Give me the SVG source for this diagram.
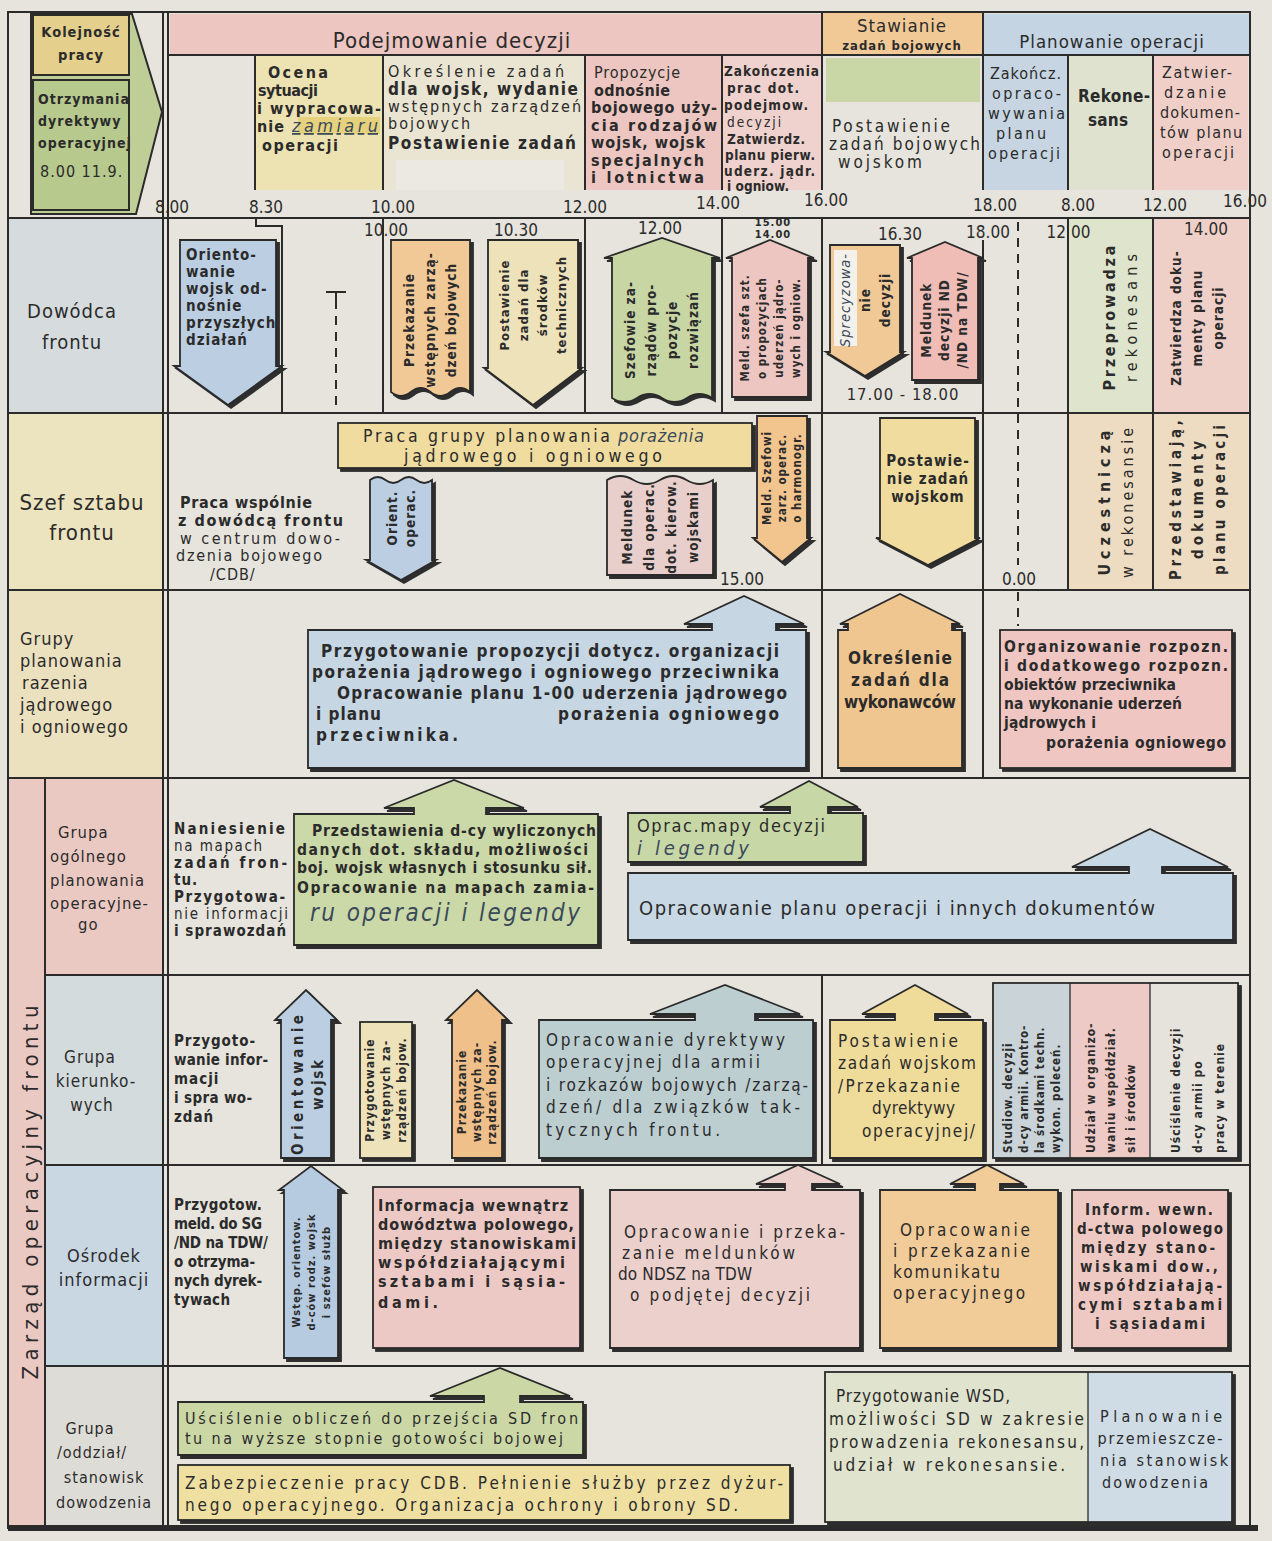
<svg xmlns="http://www.w3.org/2000/svg" width="1272" height="1541" viewBox="0 0 1272 1541">
<defs>
<filter id="sh" x="-10%" y="-10%" width="125%" height="125%">
<feOffset in="SourceAlpha" dx="3" dy="3" result="o"/>
<feFlood flood-color="#2e2e2e"/>
<feComposite in2="o" operator="in"/>
<feMerge><feMergeNode/><feMergeNode in="SourceGraphic"/></feMerge>
</filter>
<style>
.ln{stroke:#2b2b2b;stroke-width:2;fill:none}
.thin{stroke:#2b2b2b;stroke-width:1.3;fill:none}
.dash{stroke:#2b2b2b;stroke-width:2;fill:none;stroke-dasharray:9 7}
.bx{stroke:#2b2b2b;stroke-width:1.8;filter:url(#sh)}
.t{font-family:'DejaVu Sans Condensed','DejaVu Sans',sans-serif;font-weight:bold;fill:#2b2b2b;letter-spacing:1px}
.n{font-weight:normal}
.f{letter-spacing:0}
.hand{font-family:'DejaVu Sans Condensed','DejaVu Sans',sans-serif;font-style:italic;font-weight:normal;fill:#3a4a5a}
.lab{font-family:'DejaVu Sans Condensed','DejaVu Sans',sans-serif;font-weight:normal;fill:#2b2b2b;letter-spacing:1px}
.tm{font-family:'DejaVu Sans Condensed','DejaVu Sans',sans-serif;font-weight:normal;fill:#2b2b2b;font-size:17px}
.mid{text-anchor:middle}
.end{text-anchor:end}
.pink{fill:#edc6c1}.pink2{fill:#efd2cd}.orange{fill:#f1c996}.yellow{fill:#efdc9e}.ylight{fill:#ece2b2}
.green{fill:#c8d6a4}.blue{fill:#bccfe2}.cream{fill:#eee2ba}
</style>
</defs>

<rect x="0" y="0" width="1272" height="1541" fill="#e6e4dd"/>

<g id="grid-cells">
<polygon points="31,14 132,14 162,112 136,214 31,214" fill="#bfcd97" stroke="#2b2b2b" stroke-width="2"/>
<rect x="170" y="14" width="652" height="41" class="pink"/>
<rect x="822" y="12" width="161" height="43" class="orange"/>
<rect x="983" y="14" width="267" height="41" fill="#c4d4e3"/>
<rect x="255" y="55" width="128" height="135" class="ylight"/>
<rect x="383" y="55" width="202" height="135" fill="#e9e5d2"/>
<rect x="585" y="55" width="137" height="135" class="pink"/>
<rect x="722" y="55" width="100" height="135" class="pink2"/>
<rect x="826" y="58" width="154" height="44" fill="#c9d7a7"/>
<rect x="983" y="55" width="85" height="135" fill="#c6d5e1"/>
<rect x="1068" y="55" width="85" height="135" fill="#dee2cf"/>
<rect x="1153" y="55" width="95" height="135" fill="#efcfc8"/>
<rect x="396" y="160" width="168" height="30" fill="#ece9e2"/>
<rect x="8" y="218" width="155" height="195" fill="#d6dcde"/>
<rect x="8" y="413" width="155" height="177" fill="#ece3bf"/>
<rect x="8" y="590" width="155" height="188" fill="#ebe1bf"/>
<rect x="8" y="778" width="37" height="750" fill="#ebc9c3"/>
<rect x="45" y="778" width="118" height="197" fill="#ebc9c3"/>
<rect x="45" y="975" width="118" height="190" fill="#d4dbdd"/>
<rect x="45" y="1165" width="118" height="201" fill="#c9d7e3"/>
<rect x="45" y="1366" width="118" height="162" fill="#dedcd6"/>
<rect x="1068" y="218" width="85" height="195" fill="#dfe5cc"/>
<rect x="1153" y="218" width="95" height="195" fill="#efd0c8"/>
<rect x="1068" y="413" width="180" height="177" fill="#eddcc1"/>
</g>

<g id="grid-lines">
<rect x="8" y="12" width="1242" height="1516" class="ln" stroke-width="2.5"/>
<line x1="163" y1="12" x2="163" y2="1528" class="ln"/>
<line x1="168" y1="12" x2="168" y2="1528" class="ln"/>
<line x1="31" y1="12" x2="31" y2="214" class="ln"/>
<line x1="168" y1="55" x2="1250" y2="55" class="ln"/>
<line x1="822" y1="12" x2="822" y2="190" class="ln"/>
<line x1="983" y1="12" x2="983" y2="190" class="ln"/>
<line x1="255" y1="55" x2="255" y2="190" class="ln"/>
<line x1="383" y1="55" x2="383" y2="190" class="ln"/>
<line x1="585" y1="55" x2="585" y2="190" class="ln"/>
<line x1="722" y1="55" x2="722" y2="190" class="ln"/>
<line x1="1068" y1="55" x2="1068" y2="190" class="ln"/>
<line x1="1153" y1="55" x2="1153" y2="190" class="ln"/>
<line x1="8" y1="218" x2="1250" y2="218" class="ln"/>
<line x1="8" y1="413" x2="1250" y2="413" class="ln"/>
<line x1="8" y1="590" x2="1250" y2="590" class="ln"/>
<line x1="8" y1="778" x2="1250" y2="778" class="ln"/>
<line x1="45" y1="975" x2="1250" y2="975" class="ln"/>
<line x1="45" y1="1165" x2="1250" y2="1165" class="ln"/>
<line x1="45" y1="1366" x2="1250" y2="1366" class="ln"/>
<line x1="45" y1="778" x2="45" y2="1528" class="ln"/>
<line x1="8" y1="1528" x2="1258" y2="1528" stroke="#2b2b2b" stroke-width="6"/>
<line x1="383" y1="218" x2="383" y2="413" class="ln"/>
<line x1="585" y1="218" x2="585" y2="413" class="ln"/>
<line x1="722" y1="218" x2="722" y2="413" class="ln"/>
<line x1="822" y1="218" x2="822" y2="778" class="ln"/>
<line x1="983" y1="240" x2="983" y2="778" class="ln"/>
<line x1="1068" y1="218" x2="1068" y2="590" class="ln"/>
<line x1="1153" y1="218" x2="1153" y2="590" class="ln"/>
<line x1="822" y1="975" x2="822" y2="1165" class="ln"/>
</g>

<g id="connectors">
<path d="M256 218 V226 H282 V413" class="ln"/>
<path d="M326 292 H346 M336 292 V300" class="ln"/>
<line x1="336" y1="300" x2="336" y2="413" class="dash"/>
<line x1="1018" y1="222" x2="1018" y2="565" class="dash"/>
<line x1="1018" y1="592" x2="1018" y2="626" class="dash"/>
</g>

<g id="header">
<rect x="33" y="15" width="96" height="60" fill="#e5cf8c" stroke="#2b2b2b" stroke-width="2"/>
<text class="t mid" font-size="14.5" x="81" y="37">Kolejność</text>
<text class="t mid" font-size="14.5" x="81" y="60">pracy</text>
<rect x="33" y="80" width="96" height="130" fill="#b8c98d" stroke="#2b2b2b" stroke-width="2"/>
<text class="t" font-size="14" x="38" y="104">Otrzymania</text>
<text class="t" font-size="14" x="38" y="126">dyrektywy</text>
<text class="t" font-size="14" x="38" y="148">operacyjnej</text>
<text class="t n" font-size="16" x="40" y="177">8.00 11.9.</text>
<text class="lab mid" font-size="22" letter-spacing="2.5" x="452" y="48">Podejmowanie decyzji</text>
<text class="lab mid" font-size="18.5" letter-spacing="1.5" x="902" y="32">Stawianie</text>
<text class="t mid" font-size="13" x="902" y="50" letter-spacing="0.3">zadań bojowych</text>
<text class="lab mid" font-size="18.5" letter-spacing="1.8" x="1112" y="48">Planowanie operacji</text>
<rect x="298" y="117" width="82" height="17" fill="#e6d27c"/>
<text class="t f" font-size="16" x="268" y="78" textLength="60" lengthAdjust="spacing">Ocena</text>
<text class="t f" font-size="16" x="258" y="96" textLength="60" lengthAdjust="spacing">sytuacji</text>
<text class="t f" font-size="16" x="257" y="114" textLength="124" lengthAdjust="spacing">i wypracowa-</text>
<text class="t" font-size="16" x="257" y="132">nie</text>
<text class="hand" font-size="18" x="292" y="132" text-decoration="underline" textLength="86" lengthAdjust="spacing">zamiaru</text>
<text class="t f" font-size="16" x="262" y="151" textLength="76" lengthAdjust="spacing">operacji</text>
<text class="t n f" font-size="16" x="388" y="77" textLength="176" lengthAdjust="spacing">Określenie zadań</text>
<text class="t f" font-size="17" x="388" y="95" textLength="190" lengthAdjust="spacing">dla wojsk, wydanie</text>
<text class="t n f" font-size="16" x="388" y="112" textLength="193" lengthAdjust="spacing">wstępnych zarządzeń</text>
<text class="t n f" font-size="16" x="388" y="129" textLength="82" lengthAdjust="spacing">bojowych</text>
<text class="t f" font-size="17" x="388" y="149" textLength="188" lengthAdjust="spacing">Postawienie zadań</text>
<text class="t n f" font-size="16" x="594" y="78" textLength="86" lengthAdjust="spacing">Propozycje</text>
<text class="t f" font-size="16" x="594" y="96" textLength="76" lengthAdjust="spacing">odnośnie</text>
<text class="t f" font-size="16" x="591" y="113" textLength="126" lengthAdjust="spacing">bojowego uży-</text>
<text class="t f" font-size="16" x="591" y="131" textLength="126" lengthAdjust="spacing">cia rodzajów</text>
<text class="t f" font-size="16" x="591" y="148" textLength="114" lengthAdjust="spacing">wojsk, wojsk</text>
<text class="t f" font-size="16" x="591" y="166" textLength="113" lengthAdjust="spacing">specjalnych</text>
<text class="t f" font-size="16" x="591" y="183" textLength="113" lengthAdjust="spacing">i lotnictwa</text>
<text class="t f" font-size="13.5" x="724" y="76" textLength="95" lengthAdjust="spacing">Zakończenia</text>
<text class="t f" font-size="13.5" x="727" y="93" textLength="72" lengthAdjust="spacing">prac dot.</text>
<text class="t f" font-size="13.5" x="724" y="110" textLength="84" lengthAdjust="spacing">podejmow.</text>
<text class="t n f" font-size="13.5" x="727" y="127" textLength="54" lengthAdjust="spacing">decyzji</text>
<text class="t f" font-size="13.5" x="727" y="144" textLength="78" lengthAdjust="spacing">Zatwierdz.</text>
<text class="t f" font-size="13.5" x="725" y="160" textLength="90" lengthAdjust="spacing">planu pierw.</text>
<text class="t f" font-size="13.5" x="724" y="176" textLength="91" lengthAdjust="spacing">uderz. jądr.</text>
<text class="t f" font-size="13.5" x="727" y="191" textLength="62" lengthAdjust="spacing">i ogniow.</text>
<text class="t n f" font-size="17" x="832" y="132" textLength="118" lengthAdjust="spacing">Postawienie</text>
<text class="t n f" font-size="17" x="829" y="150" textLength="151" lengthAdjust="spacing">zadań bojowych</text>
<text class="t n f" font-size="17" x="838" y="168" textLength="84" lengthAdjust="spacing">wojskom</text>
<text class="t n f" font-size="16" x="990" y="79" textLength="71" lengthAdjust="spacing">Zakończ.</text>
<text class="t n f" font-size="16" x="992" y="99" textLength="69" lengthAdjust="spacing">opraco-</text>
<text class="t n f" font-size="16" x="988" y="119" textLength="77" lengthAdjust="spacing">wywania</text>
<text class="t n f" font-size="16" x="996" y="139" textLength="50" lengthAdjust="spacing">planu</text>
<text class="t n f" font-size="16" x="988" y="159" textLength="72" lengthAdjust="spacing">operacji</text>
<text class="t f" font-size="17" x="1078" y="102" textLength="72" lengthAdjust="spacing">Rekone-</text>
<text class="t f" font-size="17" x="1088" y="126" textLength="40" lengthAdjust="spacing">sans</text>
<text class="t n f" font-size="16" x="1162" y="78" textLength="70" lengthAdjust="spacing">Zatwier-</text>
<text class="t n f" font-size="16" x="1164" y="98" textLength="62" lengthAdjust="spacing">dzanie</text>
<text class="t n f" font-size="16" x="1160" y="118" textLength="80" lengthAdjust="spacing">dokumen-</text>
<text class="t n f" font-size="16" x="1160" y="138" textLength="82" lengthAdjust="spacing">tów planu</text>
<text class="t n f" font-size="16" x="1162" y="158" textLength="72" lengthAdjust="spacing">operacji</text>
<text class="tm mid" x="172" y="213">8.00</text>
<text class="tm mid" x="266" y="213">8.30</text>
<text class="tm mid" x="393" y="213">10.00</text>
<text class="tm mid" x="585" y="213">12.00</text>
<text class="tm mid" x="718" y="209">14.00</text>
<text class="tm mid" x="826" y="206">16.00</text>
<text class="tm mid" x="995" y="211">18.00</text>
<text class="tm mid" x="1078" y="211">8.00</text>
<text class="tm mid" x="1165" y="211">12.00</text>
<text class="tm mid" x="1245" y="207">16.00</text>
</g>

<g id="row-labels">
<text class="lab mid" font-size="20" x="72" y="318">Dowódca</text>
<text class="lab mid" font-size="20" x="72" y="349">frontu</text>
<text class="lab mid" font-size="22" x="82" y="510">Szef sztabu</text>
<text class="lab mid" font-size="22" x="82" y="540">frontu</text>
<text class="lab" font-size="18" x="20" y="645">Grupy</text>
<text class="lab" font-size="18" x="20" y="667">planowania</text>
<text class="lab" font-size="18" x="22" y="689">razenia</text>
<text class="lab" font-size="18" x="20" y="711">jądrowego</text>
<text class="lab" font-size="18" x="20" y="733">i ogniowego</text>
<text class="lab mid f" font-size="22" transform="translate(31,1192) rotate(-90)" x="0" y="7" textLength="375" lengthAdjust="spacing">Zarząd operacyjny frontu</text>
<text class="lab" font-size="16.5" x="58" y="838">Grupa</text>
<text class="lab" font-size="16.5" x="50" y="862">ogólnego</text>
<text class="lab" font-size="16.5" x="50" y="886">planowania</text>
<text class="lab" font-size="16.5" x="50" y="909">operacyjne-</text>
<text class="lab" font-size="16.5" x="78" y="930">go</text>
<text class="lab mid" font-size="17" x="90" y="1063">Grupa</text>
<text class="lab mid" font-size="17" x="96" y="1087">kierunko-</text>
<text class="lab mid" font-size="17" x="92" y="1111">wych</text>
<text class="lab mid" font-size="18" x="104" y="1262">Ośrodek</text>
<text class="lab mid" font-size="18" x="104" y="1286">informacji</text>
<text class="lab mid" font-size="16" x="90" y="1434">Grupa</text>
<text class="lab mid" font-size="16" x="92" y="1458">/oddział/</text>
<text class="lab mid" font-size="16" x="104" y="1483">stanowisk</text>
<text class="lab mid" font-size="16" x="104" y="1508">dowodzenia</text>
</g>

<g id="n-orientowanie">
<path d="M180 240 H276 V366 H282 L228 405 L174 366 H180 Z" class="bx blue"/>
<text class="t" font-size="15"><tspan x="186" y="260">Oriento-</tspan><tspan x="186" y="277">wanie</tspan><tspan x="186" y="294">wojsk od-</tspan><tspan x="186" y="311">nośnie</tspan><tspan x="186" y="328">przyszłych</tspan><tspan x="186" y="345">działań</tspan></text>
</g>
<g id="n-przekazanie-dow">
<path d="M391 240 H470 V392 q-9.75 -8 -19.75 0 t-19.75 0 t-19.75 0 t-19.75 0 Z" class="bx orange"/>
<text class="tm mid" x="386" y="236">10.00</text>
<text class="t mid" font-size="13.5" letter-spacing="1.6" transform="translate(430,320) rotate(-90)"><tspan x="0" y="-16.5">Przekazanie</tspan><tspan x="0" dy="21">wstępnych zarzą-</tspan><tspan x="0" dy="21">dzeń bojowych</tspan></text>
</g>
<g id="n-postawienie-tech">
<path d="M488 240 H578 V368 H582 L533 405 L484 368 H488 Z" class="bx cream"/>
<text class="tm mid" x="516" y="236">10.30</text>
<text class="t mid" font-size="13" letter-spacing="1" transform="translate(533,305) rotate(-90)"><tspan x="0" y="-24">Postawienie</tspan><tspan x="0" dy="19">zadań dla</tspan><tspan x="0" dy="19">środków</tspan><tspan x="0" dy="19">technicznych</tspan></text>
</g>
<g id="n-szefowie">
<path d="M612 258 H604 L662 238 L720 258 H712 V398 q-12.5 -8 -25 0 t-25 0 t-25 0 t-25 0 Z" class="bx green"/>
<text class="tm mid" x="660" y="234">12.00</text>
<text class="t mid" font-size="13.5" letter-spacing="1.5" transform="translate(662,330) rotate(-90)"><tspan x="0" y="-27">Szefowie za-</tspan><tspan x="0" dy="21">rządów pro-</tspan><tspan x="0" dy="21">pozycje</tspan><tspan x="0" dy="21">rozwiązań</tspan></text>
</g>
<g id="n-meld-szefa">
<path d="M732 397 V258 H726 L770 240 L814 258 H808 V397 Z" class="bx pink"/>
<text class="t mid" font-size="11" x="773" y="226">15.00</text>
<text class="t mid" font-size="11" x="773" y="238">14.00</text>
<text class="t mid" font-size="11.5" letter-spacing="0.6" transform="translate(770,328) rotate(-90)"><tspan x="0" y="-21.5">Meld. szefa szt.</tspan><tspan x="0" dy="17">o propozycjach</tspan><tspan x="0" dy="17">uderzeń jądro-</tspan><tspan x="0" dy="17">wych i ogniow.</tspan></text>
</g>
<g id="n-sprecyzowanie">
<path d="M830 245 H900 V352 H904 L865 376 L826 352 H830 Z" class="bx orange"/>
<rect x="834" y="250" width="23" height="96" fill="#f4f1ea"/>
<text class="tm mid" x="900" y="240">16.30</text>
<text class="t mid" font-size="13.5" letter-spacing="1.2" transform="translate(866,300) rotate(-90)"><tspan x="0" y="-16" class="hand" font-size="14.5" fill="#333">Sprecyzowa-</tspan><tspan x="0" dy="20">nie</tspan><tspan x="0" dy="20">decyzji</tspan></text>
</g>
<g id="n-meldunek-nd">
<path d="M912 380 V258 H907 L945 242 L983 258 H978 V380 Z" class="bx" fill="#efbdb6"/>
<text class="tm mid" x="988" y="238">18.00</text>
<text class="t mid" font-size="13.5" letter-spacing="1" transform="translate(945,320) rotate(-90)"><tspan x="0" y="-14">Meldunek</tspan><tspan x="0" dy="18">decyzji ND</tspan><tspan x="0" dy="18">/ND na TDW/</tspan></text>
<text class="lab mid" font-size="16.5" x="903" y="400" letter-spacing="0.5">17.00 - 18.00</text>
</g>
<g id="n-rekonesans-dow">
<text class="tm end" x="1066" y="238">12</text>
<text class="tm" x="1071" y="238">00</text>
<text class="t f mid" font-size="16" transform="translate(1110,318) rotate(-90)" x="0" y="5" textLength="145" lengthAdjust="spacing">Przeprowadza</text>
<text class="t n f mid" font-size="16" transform="translate(1132,318) rotate(-90)" x="0" y="5" textLength="128" lengthAdjust="spacing">rekonesans</text>
</g>
<g id="n-zatwierdza">
<text class="tm mid" x="1206" y="235">14.00</text>
<text class="t mid" font-size="13.5" letter-spacing="1.4" transform="translate(1198,318) rotate(-90)"><tspan x="0" y="-17">Zatwierdza doku-</tspan><tspan x="0" dy="21">menty planu</tspan><tspan x="0" dy="21">operacji</tspan></text>
</g>

<g id="n-praca-wspolnie">
<text class="t f" font-size="16" x="180" y="508" textLength="132" lengthAdjust="spacing">Praca wspólnie</text>
<text class="t f" font-size="16" x="178" y="526" textLength="165" lengthAdjust="spacing">z dowódcą frontu</text>
<text class="t n f" font-size="16" x="180" y="544" textLength="160" lengthAdjust="spacing">w centrum dowo-</text>
<text class="t n f" font-size="16" x="176" y="561" textLength="146" lengthAdjust="spacing">dzenia bojowego</text>
<text class="t n" font-size="16" x="210" y="580">/CDB/</text>
</g>
<g id="n-praca-grupy">
<rect x="338" y="423" width="414" height="45" class="bx yellow"/>
<text class="lab f" font-size="17.5" x="363" y="442" textLength="248" lengthAdjust="spacing">Praca grupy planowania</text>
<text class="hand" font-size="18" x="618" y="442" fill="#3a3a3a" textLength="86" lengthAdjust="spacing">porażenia</text>
<text class="lab f" font-size="17.5" x="404" y="462" textLength="259" lengthAdjust="spacing">jądrowego i ogniowego</text>
</g>
<g id="n-orient-operac">
<path d="M370 480 q7.75 -6 15.5 0 t15.5 0 t15.5 0 t15.5 0 V560 H436 L401 580 L366 560 H370 Z" class="bx blue"/>
<text class="t mid" font-size="13.5" letter-spacing="1.5" transform="translate(401,518) rotate(-90)"><tspan x="0" y="-4.5">Orient.</tspan><tspan x="0" dy="18">operac.</tspan></text>
</g>
<g id="n-meldunek-kierow">
<path d="M607 480 q13.25 -8 26.5 0 t26.5 0 t26.5 0 t26.5 0 V575 H607 Z" class="bx" fill="#e9cfcc"/>
<text class="t mid" font-size="13.5" letter-spacing="1" transform="translate(660,527) rotate(-90)"><tspan x="0" y="-28.5">Meldunek</tspan><tspan x="0" dy="22">dla operac.</tspan><tspan x="0" dy="22">dot. kierow.</tspan><tspan x="0" dy="22">wojskami</tspan></text>
</g>
<g id="n-meld-szefowi">
<path d="M757 416 H807 V538 H811 L782 562 L753 538 H757 Z" class="bx" fill="#f2c48e"/>
<text class="t mid" font-size="11.5" letter-spacing="0.5" transform="translate(782,478) rotate(-90)"><tspan x="0" y="-11">Meld. Szefowi</tspan><tspan x="0" dy="15">zarz. operac.</tspan><tspan x="0" dy="15">o harmonogr.</tspan></text>
<text class="tm mid" x="742" y="585">15.00</text>
</g>
<g id="n-postawienie-wojskom">
<path d="M880 418 H975 V538 H980 L928 565 L876 538 H880 Z" class="bx yellow"/>
<text class="t mid" font-size="15" x="928" y="466">Postawie-</text>
<text class="t mid" font-size="15" x="928" y="484">nie zadań</text>
<text class="t mid" font-size="15" x="928" y="502">wojskom</text>
<text class="tm mid" x="1019" y="585">0.00</text>
</g>
<g id="n-uczestnicza">
<text class="t f mid" font-size="16" transform="translate(1105,503) rotate(-90)" x="0" y="5" textLength="145" lengthAdjust="spacing">Uczestniczą</text>
<text class="t n f mid" font-size="16" transform="translate(1128,503) rotate(-90)" x="0" y="5" textLength="150" lengthAdjust="spacing">w rekonesansie</text>
</g>
<g id="n-przedstawiaja">
<text class="t f mid" font-size="15" transform="translate(1176,500) rotate(-90)" x="0" y="5" textLength="160" lengthAdjust="spacing">Przedstawiają,</text>
<text class="t f mid" font-size="15" transform="translate(1198,500) rotate(-90)" x="0" y="5" textLength="118" lengthAdjust="spacing">dokumenty</text>
<text class="t f mid" font-size="15" transform="translate(1220,500) rotate(-90)" x="0" y="5" textLength="150" lengthAdjust="spacing">planu operacji</text>
</g>

<g id="n-przygotowanie-propozycji">
<path d="M308 630 H712 V624 H684 L744 596 L804 624 H776 V630 H806 V768 H308 Z" class="bx" fill="#c6d6e3"/>
<text class="t f" font-size="17" x="321" y="657" textLength="458" lengthAdjust="spacing">Przygotowanie propozycji dotycz. organizacji</text>
<text class="t f" font-size="17" x="312" y="678" textLength="467" lengthAdjust="spacing">porażenia jądrowego i ogniowego przeciwnika</text>
<text class="t f" font-size="17" x="337" y="699" textLength="450" lengthAdjust="spacing">Opracowanie planu 1-00 uderzenia jądrowego</text>
<text class="t f" font-size="17" x="316" y="720" textLength="65" lengthAdjust="spacing">i planu</text>
<text class="t f" font-size="17" x="558" y="720" textLength="221" lengthAdjust="spacing">porażenia ogniowego</text>
<text class="t f" font-size="17" x="316" y="741" textLength="142" lengthAdjust="spacing">przeciwnika.</text>
</g>
<g id="n-okreslenie">
<path d="M838 768 V630 H848 V624 H840 L900 594 L960 624 H952 V630 H962 V768 Z" class="bx" fill="#f0c690"/>
<text class="t f mid" font-size="17" x="900" y="664" textLength="104" lengthAdjust="spacing">Określenie</text>
<text class="t f mid" font-size="17" x="900" y="686" textLength="98" lengthAdjust="spacing">zadań dla</text>
<text class="t f mid" font-size="17" x="900" y="708" textLength="112" lengthAdjust="spacing">wykonawców</text>
</g>
<g id="n-organizowanie">
<rect x="1000" y="630" width="232" height="138" class="bx" fill="#efc6c2"/>
<text class="t f" font-size="15.5" x="1004" y="652" textLength="224" lengthAdjust="spacing">Organizowanie rozpozn.</text>
<text class="t f" font-size="15.5" x="1004" y="671" textLength="224" lengthAdjust="spacing">i dodatkowego rozpozn.</text>
<text class="t f" font-size="15.5" x="1004" y="690" textLength="172" lengthAdjust="spacing">obiektów przeciwnika</text>
<text class="t f" font-size="15.5" x="1004" y="709" textLength="178" lengthAdjust="spacing">na wykonanie uderzeń</text>
<text class="t f" font-size="15.5" x="1004" y="728" textLength="92" lengthAdjust="spacing">jądrowych i</text>
<text class="t f" font-size="15.5" x="1046" y="748" textLength="180" lengthAdjust="spacing">porażenia ogniowego</text>
</g>

<g id="n-naniesienie">
<text class="t f" font-size="15" x="174" y="834" textLength="111" lengthAdjust="spacing">Naniesienie</text>
<text class="t n f" font-size="15" x="174" y="851" textLength="88" lengthAdjust="spacing">na mapach</text>
<text class="t f" font-size="15" x="174" y="868" textLength="113" lengthAdjust="spacing">zadań fron-</text>
<text class="t" font-size="15" x="174" y="885">tu.</text>
<text class="t f" font-size="15" x="174" y="902" textLength="111" lengthAdjust="spacing">Przygotowa-</text>
<text class="t n f" font-size="15" x="174" y="919" textLength="114" lengthAdjust="spacing">nie informacji</text>
<text class="t f" font-size="15" x="174" y="936" textLength="112" lengthAdjust="spacing">i sprawozdań</text>
</g>
<g id="n-przedstawienia">
<path d="M294 814 H414 V808 H384 L454 780 L524 808 H486 V814 H598 V945 H294 Z" class="bx" fill="#cbd9a8"/>
<text class="t f" font-size="15.5" x="312" y="836" textLength="284" lengthAdjust="spacing">Przedstawienia d-cy wyliczonych</text>
<text class="t f" font-size="15.5" x="297" y="855" textLength="291" lengthAdjust="spacing">danych dot. składu, możliwości</text>
<text class="t f" font-size="15.5" x="297" y="873" textLength="295" lengthAdjust="spacing">boj. wojsk własnych i stosunku sił.</text>
<text class="t f" font-size="15.5" x="297" y="893" textLength="297" lengthAdjust="spacing">Opracowanie na mapach zamia-</text>
<text class="hand f" font-size="24" x="310" y="921" fill="#3b4a4a" textLength="270" lengthAdjust="spacing">ru operacji i legendy</text>
</g>
<g id="n-oprac-mapy">
<path d="M628 813 H790 V807 H760 L809 781 L858 807 H828 V813 H863 V862 H628 Z" class="bx" fill="#c8d7a6"/>
<text class="lab f" font-size="18" x="637" y="832" textLength="189" lengthAdjust="spacing">Oprac.mapy decyzji</text>
<text class="hand f" font-size="20" x="637" y="855" textLength="112" lengthAdjust="spacing">i legendy</text>
</g>
<g id="n-opracowanie-planu">
<path d="M628 873 H1129 V867 H1072 L1150 829 L1228 867 H1162 V873 H1233 V940 H628 Z" class="bx" fill="#c8d8e4"/>
<text class="lab f" font-size="20" x="639" y="915" textLength="517" lengthAdjust="spacing">Opracowanie planu operacji i innych dokumentów</text>
</g>

<g id="n-przygotowanie-informacji">
<text class="t f" font-size="15" x="174" y="1046" textLength="81" lengthAdjust="spacing">Przygoto-</text>
<text class="t f" font-size="15" x="174" y="1065" textLength="94" lengthAdjust="spacing">wanie infor-</text>
<text class="t" font-size="15" x="174" y="1084">macji</text>
<text class="t f" font-size="15" x="174" y="1103" textLength="78" lengthAdjust="spacing">i spra wo-</text>
<text class="t" font-size="15" x="174" y="1122">zdań</text>
</g>
<g id="n-orientowanie-wojsk">
<path d="M281 1158 V1020 H275 L306 990 L337 1020 H331 V1158 Z" class="bx blue"/>
<text class="t f mid" font-size="15" transform="translate(298,1085) rotate(-90)" x="0" y="5" textLength="140" lengthAdjust="spacing">Orientowanie</text>
<text class="t f mid" font-size="15" transform="translate(318,1085) rotate(-90)" x="0" y="5" textLength="50" lengthAdjust="spacing">wojsk</text>
</g>
<g id="n-przygotowanie-wstepnych">
<rect x="360" y="1022" width="52" height="136" class="bx cream"/>
<text class="t mid" font-size="12" letter-spacing="1" transform="translate(386,1090) rotate(-90)"><tspan x="0" y="-12">Przygotowanie</tspan><tspan x="0" dy="16">wstępnych za-</tspan><tspan x="0" dy="16">rządzeń bojow.</tspan></text>
</g>
<g id="n-przekazanie-wstepnych">
<path d="M452 1158 V1020 H446 L477 990 L508 1020 H502 V1158 Z" class="bx" fill="#f0c08a"/>
<text class="t mid" font-size="12" letter-spacing="1" transform="translate(477,1092) rotate(-90)"><tspan x="0" y="-11">Przekazanie</tspan><tspan x="0" dy="15">wstępnych za-</tspan><tspan x="0" dy="15">rządzeń bojow.</tspan></text>
</g>
<g id="n-opracowanie-dyrektywy">
<path d="M539 1020 H695 V1014 H650 L725 985 L800 1014 H755 V1020 H813 V1158 H539 Z" class="bx" fill="#bdced1"/>
<text class="t n f" font-size="17" x="546" y="1046" textLength="239" lengthAdjust="spacing">Opracowanie dyrektywy</text>
<text class="t n f" font-size="17" x="546" y="1068" textLength="214" lengthAdjust="spacing">operacyjnej dla armii</text>
<text class="t n f" font-size="17" x="546" y="1091" textLength="262" lengthAdjust="spacing">i rozkazów bojowych /zarzą-</text>
<text class="t n f" font-size="17" x="546" y="1113" textLength="254" lengthAdjust="spacing">dzeń/ dla związków tak-</text>
<text class="t n f" font-size="17" x="546" y="1136" textLength="174" lengthAdjust="spacing">tycznych frontu.</text>
</g>
<g id="n-postawienie-dyrektywy">
<path d="M830 1020 H895 V1014 H862 L915 985 L968 1014 H935 V1020 H983 V1158 H830 Z" class="bx" fill="#efdb9a"/>
<text class="t n f" font-size="17" x="838" y="1047" textLength="120" lengthAdjust="spacing">Postawienie</text>
<text class="t n f" font-size="17" x="838" y="1069" textLength="138" lengthAdjust="spacing">zadań wojskom</text>
<text class="t n f" font-size="17" x="838" y="1092" textLength="122" lengthAdjust="spacing">/Przekazanie</text>
<text class="t n f" font-size="17" x="872" y="1114" textLength="83" lengthAdjust="spacing">dyrektywy</text>
<text class="t n f" font-size="17" x="862" y="1137" textLength="113" lengthAdjust="spacing">operacyjnej/</text>
</g>
<g id="n-trzy-kolumny">
<rect x="993" y="983" width="245" height="175" class="bx" fill="#e6e3dc"/>
<rect x="994" y="984" width="76" height="173" fill="#c9d3d8"/>
<rect x="1070" y="984" width="80" height="173" fill="#edcac5"/>
<line x1="1070" y1="983" x2="1070" y2="1158" class="thin"/>
<line x1="1150" y1="983" x2="1150" y2="1158" class="thin"/>
<text class="t" font-size="11.5" letter-spacing="0.6" transform="translate(1035,1153) rotate(-90)"><tspan x="0" y="-23">Studiow. decyzji</tspan><tspan x="0" dy="16">d-cy armii. Kontro-</tspan><tspan x="0" dy="16">la środkami techn.</tspan><tspan x="0" dy="16">wykon. poleceń.</tspan></text>
<text class="t" font-size="12" letter-spacing="1.2" transform="translate(1111,1153) rotate(-90)"><tspan x="0" y="-16">Udział w organizo-</tspan><tspan x="0" dy="20">waniu współdział.</tspan><tspan x="0" dy="20">sił i środków</tspan></text>
<text class="t" font-size="12" letter-spacing="1.4" transform="translate(1198,1153) rotate(-90)"><tspan x="0" y="-18">Uściślenie decyzji</tspan><tspan x="0" dy="22">d-cy armii po</tspan><tspan x="0" dy="22">pracy w terenie</tspan></text>
</g>

<g id="n-przygotow-meld">
<text class="t f" font-size="15" x="174" y="1210" textLength="88" lengthAdjust="spacing">Przygotow.</text>
<text class="t f" font-size="15" x="174" y="1229" textLength="88" lengthAdjust="spacing">meld. do SG</text>
<text class="t f" font-size="15" x="174" y="1248" textLength="94" lengthAdjust="spacing">/ND na TDW/</text>
<text class="t f" font-size="15" x="174" y="1267" textLength="81" lengthAdjust="spacing">o otrzyma-</text>
<text class="t f" font-size="15" x="174" y="1286" textLength="88" lengthAdjust="spacing">nych dyrek-</text>
<text class="t f" font-size="15" x="174" y="1305" textLength="56" lengthAdjust="spacing">tywach</text>
</g>
<g id="n-wstep-orientow">
<path d="M284 1358 V1190 H279 L311 1166 L343 1190 H338 V1358 Z" class="bx" fill="#b6cbe0"/>
<text class="t mid" font-size="11" letter-spacing="0.7" transform="translate(311,1272) rotate(-90)"><tspan x="0" y="-11.3">Wstęp. orientow.</tspan><tspan x="0" dy="15">d-ców rodz. wojsk</tspan><tspan x="0" dy="15">i szefów służb</tspan></text>
</g>
<g id="n-informacja">
<rect x="373" y="1187" width="207" height="161" class="bx" fill="#ecc9c5"/>
<text class="t f" font-size="16" x="378" y="1211" textLength="190" lengthAdjust="spacing">Informacja wewnątrz</text>
<text class="t f" font-size="16" x="378" y="1230" textLength="196" lengthAdjust="spacing">dowództwa polowego,</text>
<text class="t f" font-size="16" x="378" y="1249" textLength="198" lengthAdjust="spacing">między stanowiskami</text>
<text class="t f" font-size="16" x="378" y="1268" textLength="187" lengthAdjust="spacing">współdziałającymi</text>
<text class="t f" font-size="16" x="378" y="1287" textLength="187" lengthAdjust="spacing">sztabami i sąsia-</text>
<text class="t f" font-size="16" x="378" y="1308" textLength="60" lengthAdjust="spacing">dami.</text>
</g>
<g id="n-meldunkow">
<path d="M610 1190 H785 V1184 H756 L798 1165 L840 1184 H812 V1190 H860 V1348 H610 Z" class="bx" fill="#ebd0cc"/>
<text class="t n f" font-size="17" x="624" y="1238" textLength="221" lengthAdjust="spacing">Opracowanie i przeka-</text>
<text class="t n f" font-size="17" x="622" y="1259" textLength="173" lengthAdjust="spacing">zanie meldunków</text>
<text class="t n f" font-size="17" x="618" y="1280" textLength="134" lengthAdjust="spacing">do NDSZ na TDW</text>
<text class="t n f" font-size="17" x="630" y="1301" textLength="180" lengthAdjust="spacing">o podjętej decyzji</text>
</g>
<g id="n-komunikatu">
<path d="M880 1190 H975 V1184 H950 L987 1165 L1024 1184 H1000 V1190 H1058 V1348 H880 Z" class="bx" fill="#f2cc98"/>
<text class="t n f" font-size="17" x="900" y="1236" textLength="130" lengthAdjust="spacing">Opracowanie</text>
<text class="t n f" font-size="17" x="893" y="1257" textLength="137" lengthAdjust="spacing">i przekazanie</text>
<text class="t n f" font-size="17" x="893" y="1278" textLength="107" lengthAdjust="spacing">komunikatu</text>
<text class="t n f" font-size="17" x="893" y="1299" textLength="132" lengthAdjust="spacing">operacyjnego</text>
</g>
<g id="n-inform-wewn">
<rect x="1072" y="1190" width="156" height="158" class="bx" fill="#eec9c4"/>
<text class="t f mid" font-size="15" x="1149" y="1215" textLength="128" lengthAdjust="spacing">Inform. wewn.</text>
<text class="t f mid" font-size="15" x="1150" y="1234" textLength="146" lengthAdjust="spacing">d-ctwa polowego</text>
<text class="t f mid" font-size="15" x="1148" y="1253" textLength="134" lengthAdjust="spacing">między stano-</text>
<text class="t f mid" font-size="15" x="1149" y="1272" textLength="138" lengthAdjust="spacing">wiskami dow.,</text>
<text class="t f mid" font-size="15" x="1150" y="1291" textLength="144" lengthAdjust="spacing">współdziałają-</text>
<text class="t f mid" font-size="15" x="1150" y="1310" textLength="144" lengthAdjust="spacing">cymi sztabami</text>
<text class="t f mid" font-size="15" x="1150" y="1329" textLength="110" lengthAdjust="spacing">i sąsiadami</text>
</g>

<g id="n-uscislenie-obliczen">
<path d="M178 1402 H484 V1396 H430 L500 1368 L570 1396 H520 V1402 H583 V1455 H178 Z" class="bx" fill="#cbd8a6"/>
<text class="t n f" font-size="16" x="185" y="1424" textLength="393" lengthAdjust="spacing">Uściślenie obliczeń do przejścia SD fron</text>
<text class="t n f" font-size="16" x="185" y="1444" textLength="378" lengthAdjust="spacing">tu na wyższe stopnie gotowości bojowej</text>
</g>
<g id="n-zabezpieczenie">
<rect x="178" y="1465" width="612" height="55" class="bx" fill="#efe0a2"/>
<text class="t n f" font-size="17" x="185" y="1489" textLength="598" lengthAdjust="spacing">Zabezpieczenie pracy CDB. Pełnienie służby przez dyżur-</text>
<text class="t n f" font-size="17" x="185" y="1511" textLength="553" lengthAdjust="spacing">nego operacyjnego. Organizacja ochrony i obrony SD.</text>
</g>
<g id="n-wsd">
<rect x="825" y="1372" width="407" height="150" class="bx" fill="#e0e3cd"/>
<rect x="1088" y="1373" width="143" height="148" fill="#cfdce5"/>
<line x1="1088" y1="1372" x2="1088" y2="1522" class="thin"/>
<text class="t n f" font-size="17" x="836" y="1402" textLength="174" lengthAdjust="spacing">Przygotowanie WSD,</text>
<text class="t n f" font-size="17" x="829" y="1425" textLength="255" lengthAdjust="spacing">możliwości SD w zakresie</text>
<text class="t n f" font-size="17" x="829" y="1448" textLength="255" lengthAdjust="spacing">prowadzenia rekonesansu,</text>
<text class="t n f" font-size="17" x="833" y="1471" textLength="232" lengthAdjust="spacing">udział w rekonesansie.</text>
<text class="t n f mid" font-size="16" x="1161" y="1422" textLength="122" lengthAdjust="spacing">Planowanie</text>
<text class="t n f mid" font-size="16" x="1160" y="1444" textLength="125" lengthAdjust="spacing">przemieszcze-</text>
<text class="t n f mid" font-size="16" x="1164" y="1466" textLength="128" lengthAdjust="spacing">nia stanowisk</text>
<text class="t n f mid" font-size="16" x="1155" y="1488" textLength="106" lengthAdjust="spacing">dowodzenia</text>
</g>
</svg>
